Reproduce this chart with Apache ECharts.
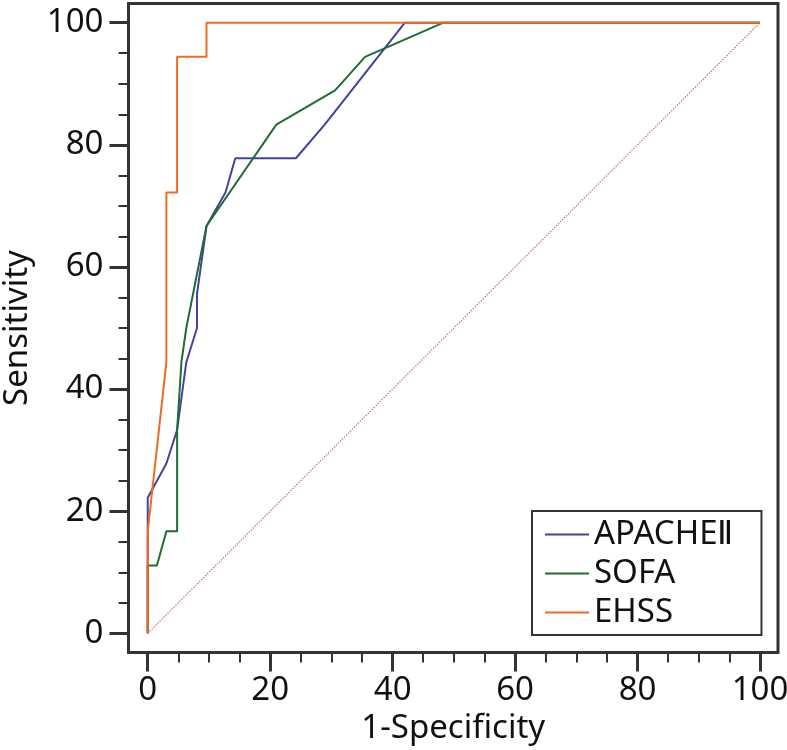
<!DOCTYPE html>
<html>
<head>
<meta charset="utf-8">
<script src="https://cdn.jsdelivr.net/npm/echarts@6/dist/echarts.min.js"></script>
<style>
html,body{margin:0;padding:0;background:#fff;}
#chart{width:787px;height:750px;}
</style>
</head>
<body>
<div id="chart"></div>
<script>
// ---- data ----
const seriesNames = ['APACHEⅡ', 'SOFA', 'EHSS'];
const apacheX = [0, 0, 3.05, 4.8, 6.3, 8.05, 8.05, 9.6, 12.7, 14.3, 24.2, 28.9, 42, 100];
const apacheY = [0, 22.2, 27.8, 33.3, 44.4, 50, 55.6, 66.7, 72.2, 77.8, 77.8, 83.3, 100, 100];
const sofaX = [0, 0, 1.5, 3.05, 4.8, 4.8, 5.5, 6.3, 9.6, 21.0, 30.6, 35.5, 48.3, 100];
const sofaY = [0, 11.1, 11.1, 16.7, 16.7, 33.3, 44.4, 50, 66.7, 83.3, 88.9, 94.4, 100, 100];
const ehssX = [0, 0, 3.05, 3.05, 4.8, 4.8, 9.6, 9.6, 100];
const ehssY = [0, 16.7, 44.4, 72.2, 72.2, 94.4, 94.4, 100, 100];
const refX = [0, 100];
const refY = [0, 100];
const majorTicks = [0, 20, 40, 60, 80, 100];
const minorTicks = [5, 10, 15, 25, 30, 35, 45, 50, 55, 65, 70, 75, 85, 90, 95];

function zip(xs, ys) { return xs.map((x, i) => [x, ys[i]]); }

const FONT = 'Noto Sans';
const AX = '#333';

const chart = echarts.init(document.getElementById('chart'), null, {renderer: 'canvas'});

function makeX(major) {
  return {
    type: 'value', position: 'bottom', min: -3.14, max: 102.94,
    axisLine: {show: false, onZero: false},
    splitLine: {show: false},
    axisTick: {show: true, inside: false, customValues: major ? majorTicks : minorTicks,
      length: major ? 19 : 10, lineStyle: {color: AX, width: major ? 3 : 2}},
    axisLabel: major ? {show: true, customValues: majorTicks, fontFamily: FONT, fontSize: 33, color: '#111', margin: 22}
                     : {show: false},
    name: major ? '1-Specificity' : '',
    nameLocation: 'middle', nameGap: 58,
    nameTextStyle: {fontFamily: FONT, fontSize: 33, color: '#111'}
  };
}
function makeY(major) {
  return {
    type: 'value', position: 'left', min: -3.14, max: 103.14,
    axisLine: {show: false, onZero: false},
    splitLine: {show: false},
    axisTick: {show: true, inside: false, customValues: major ? majorTicks : minorTicks,
      length: major ? 19 : 10, lineStyle: {color: AX, width: major ? 3 : 2}},
    axisLabel: major ? {show: true, customValues: majorTicks, fontFamily: FONT, fontSize: 33, color: '#111', margin: 25}
                     : {show: false},
    name: major ? 'Sensitivity' : '',
    nameLocation: 'middle', nameGap: 94, nameRotate: 90,
    nameTextStyle: {fontFamily: FONT, fontSize: 33, color: '#111'}
  };
}

const lineBase = {type: 'line', showSymbol: false, symbol: 'none', xAxisIndex: 0, yAxisIndex: 0, animation: false};

chart.setOption({
  animation: false,
  backgroundColor: '#fff',
  grid: {left: 128.5, right: 9, top: 3.5, bottom: 97.5, containLabel: false, outerBoundsMode: 'none',
    show: true, borderColor: AX, borderWidth: 3, backgroundColor: 'transparent'},
  xAxis: [makeX(true), makeX(false)],
  yAxis: [makeY(true), makeY(false)],
  legend: {
    data: seriesNames,
    orient: 'vertical', left: 532, top: 511,
    backgroundColor: '#fff',
    borderColor: AX, borderWidth: 2, borderRadius: 0,
    padding: [7, 28, 6, 13],
    itemWidth: 44, itemHeight: 2, itemGap: 6,
    icon: 'rect',
    textStyle: {fontFamily: FONT, fontSize: 33, color: '#111', lineHeight: 33, padding: [0, 0, 0, 0]}
  },
  series: [
    Object.assign({}, lineBase, {name: 'ref', data: zip(refX, refY), lineStyle: {color: '#cf7a7a', width: 1.4, type: 'dotted'}, silent: true}),
    Object.assign({}, lineBase, {name: seriesNames[0], data: zip(apacheX, apacheY), color: '#4242a0', lineStyle: {color: '#4242a0', width: 2}}),
    Object.assign({}, lineBase, {name: seriesNames[1], data: zip(sofaX, sofaY), color: '#1f6d30', lineStyle: {color: '#1f6d30', width: 2}}),
    Object.assign({}, lineBase, {name: seriesNames[2], data: zip(ehssX, ehssY), color: '#f26a22', lineStyle: {color: '#f26a22', width: 2}})
  ]
});
</script>
</body>
</html>
